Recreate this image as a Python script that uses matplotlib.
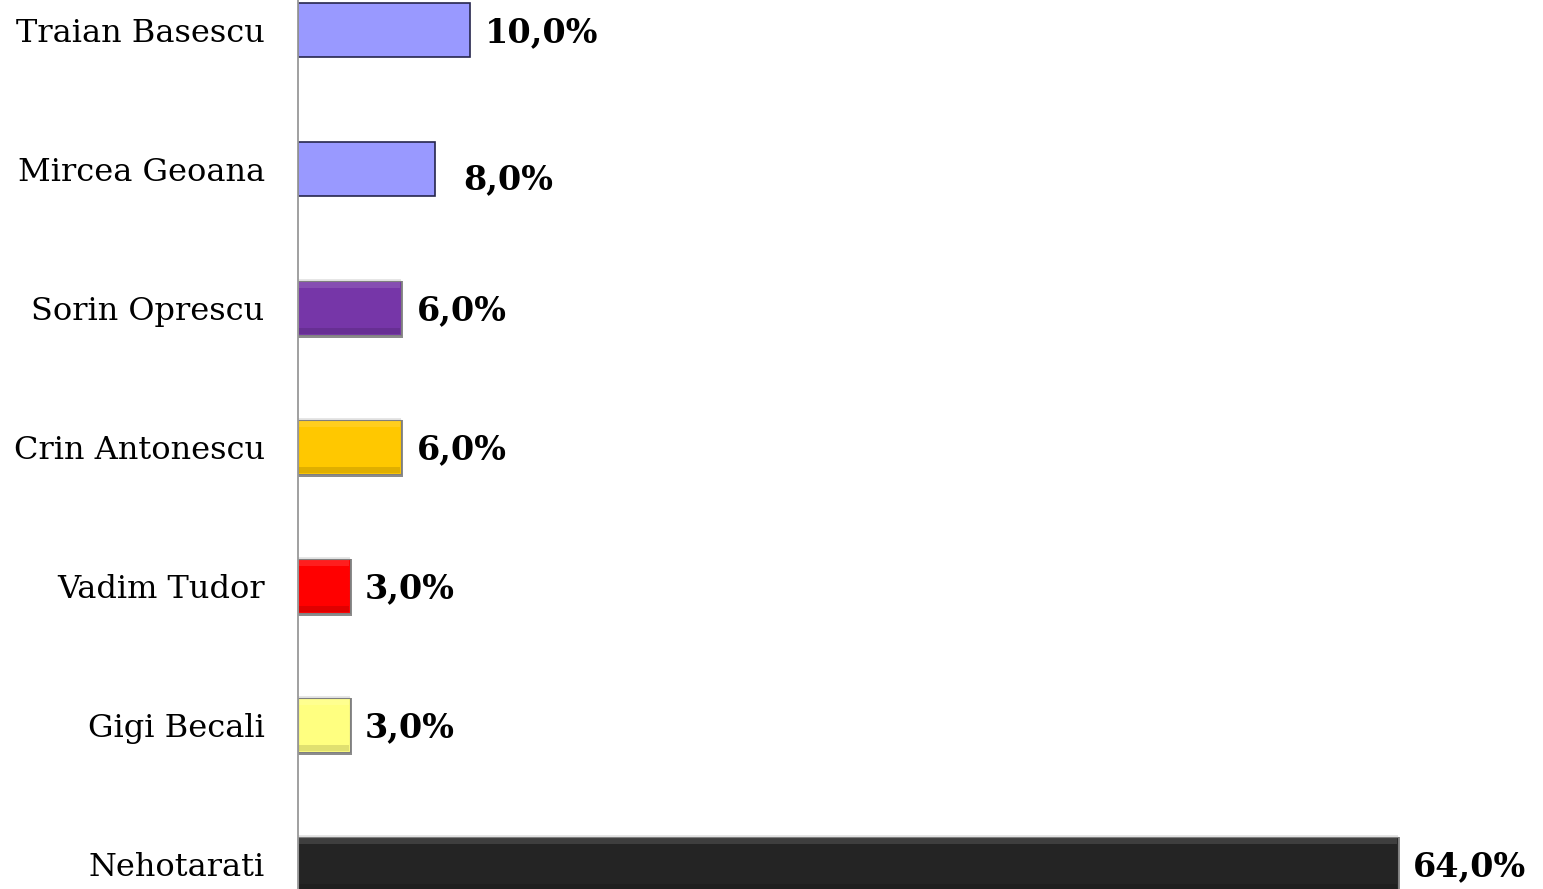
import matplotlib.pyplot as plt

names = ["Traian Basescu", "Mircea Geoana", "Sorin Oprescu", "Crin Antonescu",
         "Vadim Tudor", "Gigi Becali", "Nehotarati"]
values = [10.0, 8.0, 6.0, 6.0, 3.0, 3.0, 64.0]
colors = ["#9999ff", "#9999ff", "#7636a8", "#ffc800", "#ff0000", "#ffff80", "#242424"]
beveled = [False, False, True, True, True, True, True]

fig = plt.figure(figsize=(15.43, 8.89), dpi=100)
ax = fig.add_axes([298 / 1543, 0, 1 - 298 / 1543 - 0.005, 1])

ypos = list(range(len(names)))
h = 0.39
for y, v, c, bev in zip(ypos, values, colors, beveled):
    if bev:
        # shadow right/bottom, light rim on top -> bevel look
        ax.barh(y + 0.01, v + 0.12, height=h + 0.02, left=0, color="#8c8c8c", zorder=1)
        ax.barh(y - 0.015, v, height=h, left=0, color="#e6e6e6", zorder=1)
        ax.barh(y, v, height=h, left=0, color=c, edgecolor="#7f7f7f",
                linewidth=0.8, zorder=2)
        ax.barh(y + h / 2 - 0.03, v - 0.1, height=0.04, left=0.05,
                color="black", alpha=0.12, zorder=3)
        ax.barh(y - h / 2 + 0.03, v - 0.1, height=0.04, left=0.05,
                color="white", alpha=0.12, zorder=3)
    else:
        ax.barh(y, v, height=h, color=c, edgecolor="#26264d", linewidth=1.2, zorder=2)

for i, (y, v) in enumerate(zip(ypos, values)):
    dx, dy = 0.9, 0.0
    if i == 1:
        dx, dy = 1.6, 0.06
    ax.text(v + dx, y + dy + 0.02, f"{v:.1f}%".replace(".", ","), va="center", ha="left",
            fontsize=24, fontweight="bold", family="DejaVu Serif", color="black")

ax.set_yticks(ypos)
ax.set_yticklabels(names, fontsize=23, family="DejaVu Serif")
ax.tick_params(axis="y", length=0, pad=24)
ax.set_xticks([])
ax.set_xlim(0, 72)
ax.set_ylim((889 - 30) / 139, -30 / 139)
for s in ["top", "right", "bottom"]:
    ax.spines[s].set_visible(False)
ax.spines["left"].set_color("#999999")
ax.spines["left"].set_linewidth(1.3)

plt.savefig("out.png", dpi=100)
